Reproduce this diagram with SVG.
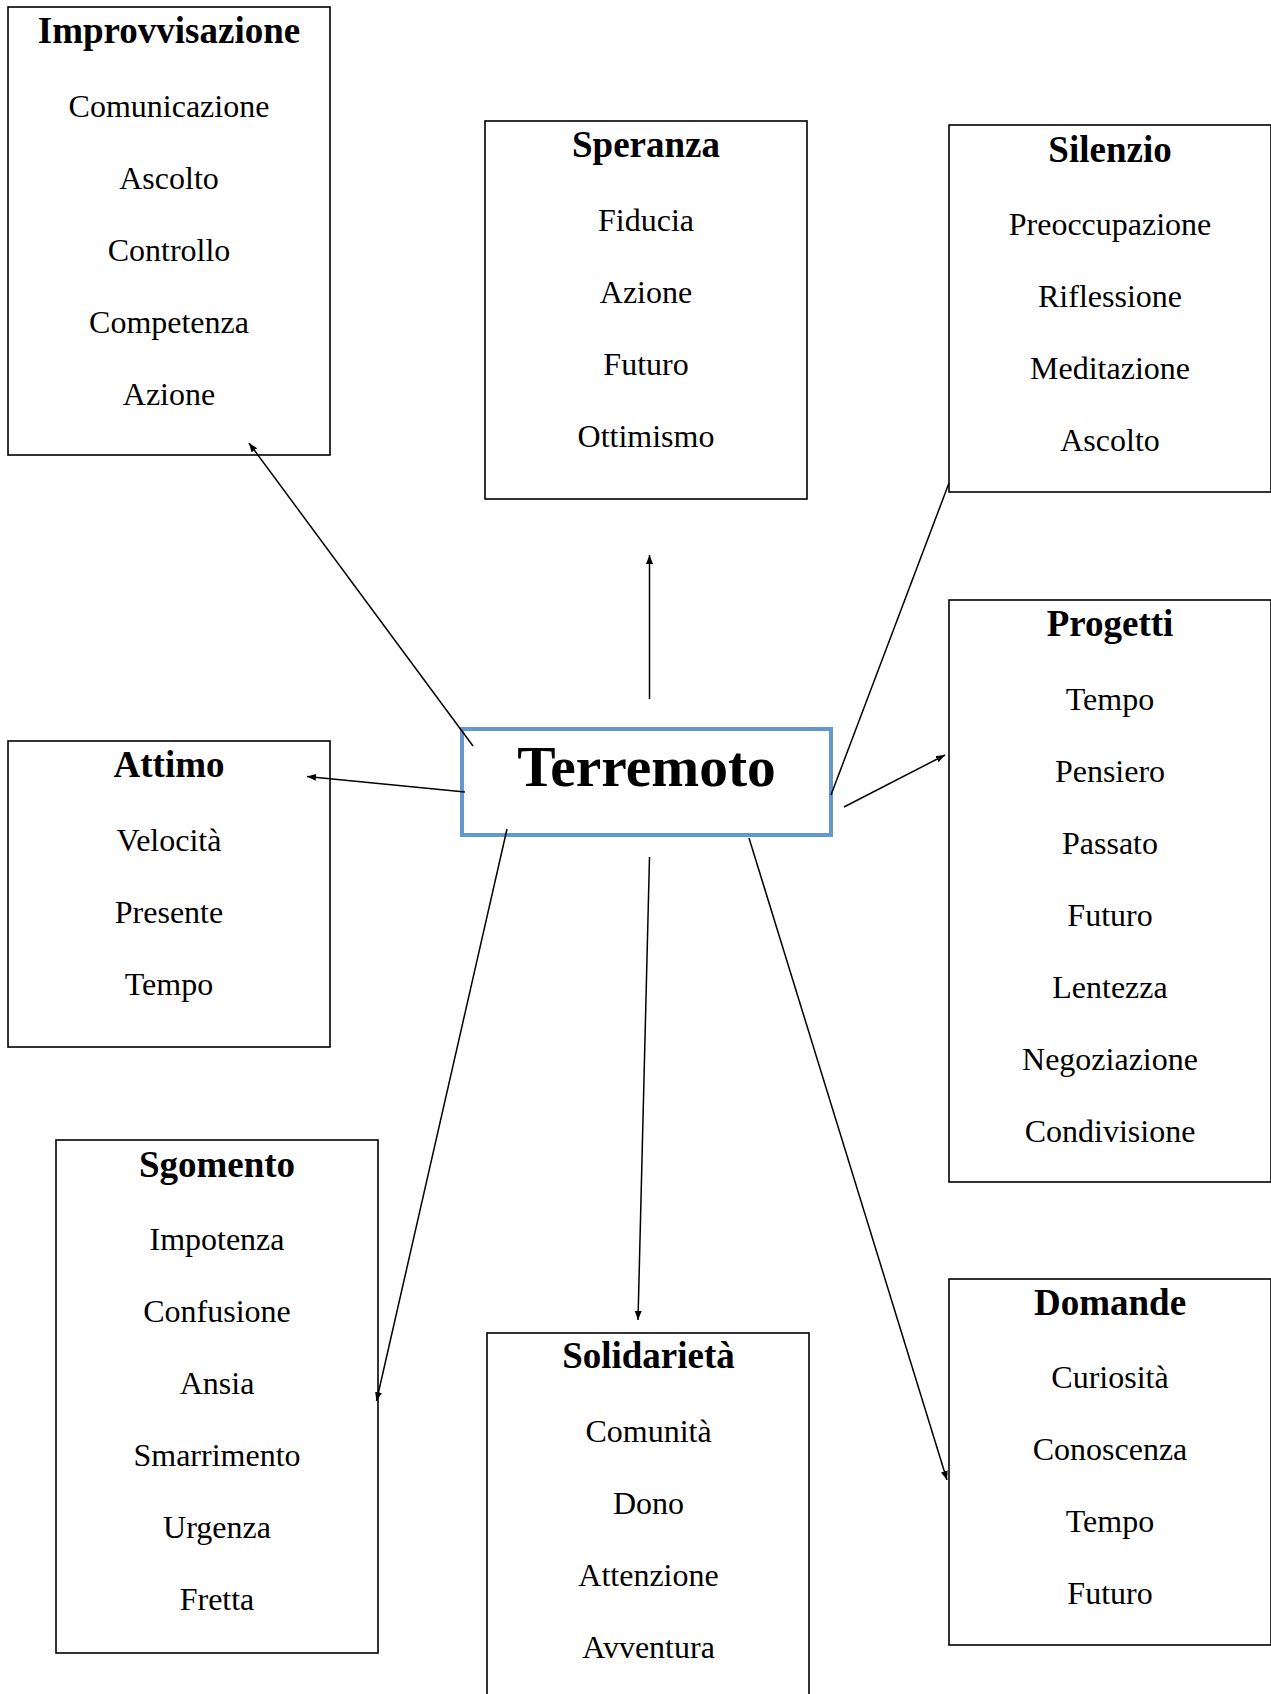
<svg xmlns="http://www.w3.org/2000/svg" width="1271" height="1694" viewBox="0 0 1271 1694">
<style>
.box{fill:#fff;stroke:#000;stroke-width:1.6}
.t{font-family:"Liberation Serif","Times New Roman",serif;font-weight:bold;font-size:37px;text-anchor:middle;fill:#000}
.i{font-family:"Liberation Serif","Times New Roman",serif;font-size:32px;text-anchor:middle;fill:#000}
.c{stroke:#000;stroke-width:1.5;fill:none;marker-end:url(#ah)}
</style>
<defs>
<marker id="ah" markerUnits="userSpaceOnUse" markerWidth="10" markerHeight="8" refX="9" refY="3.5" orient="auto">
<path d="M0,0 L9,3.5 L0,7 z" fill="#000"/>
</marker>
</defs>
<rect width="1271" height="1694" fill="#fff"/>

<g id="improvvisazione">
<rect class="box" x="8" y="7" width="322" height="448"/>
<text class="t" x="169" y="43">Improvvisazione</text>
<text class="i" x="169" y="117">Comunicazione</text>
<text class="i" x="169" y="189">Ascolto</text>
<text class="i" x="169" y="261">Controllo</text>
<text class="i" x="169" y="333">Competenza</text>
<text class="i" x="169" y="405">Azione</text>
</g>

<g id="speranza">
<rect class="box" x="485" y="121" width="322" height="378"/>
<text class="t" x="646" y="157">Speranza</text>
<text class="i" x="646" y="231">Fiducia</text>
<text class="i" x="646" y="303">Azione</text>
<text class="i" x="646" y="375">Futuro</text>
<text class="i" x="646" y="447">Ottimismo</text>
</g>

<g id="silenzio">
<rect class="box" x="949" y="125" width="322" height="367"/>
<text class="t" x="1110" y="162">Silenzio</text>
<text class="i" x="1110" y="235">Preoccupazione</text>
<text class="i" x="1110" y="307">Riflessione</text>
<text class="i" x="1110" y="379">Meditazione</text>
<text class="i" x="1110" y="451">Ascolto</text>
</g>

<g id="progetti">
<rect class="box" x="949" y="600" width="322" height="582"/>
<text class="t" x="1110" y="636">Progetti</text>
<text class="i" x="1110" y="710">Tempo</text>
<text class="i" x="1110" y="782">Pensiero</text>
<text class="i" x="1110" y="854">Passato</text>
<text class="i" x="1110" y="926">Futuro</text>
<text class="i" x="1110" y="998">Lentezza</text>
<text class="i" x="1110" y="1070">Negoziazione</text>
<text class="i" x="1110" y="1142">Condivisione</text>
</g>

<g id="attimo">
<rect class="box" x="8" y="741" width="322" height="306"/>
<text class="t" x="169" y="777">Attimo</text>
<text class="i" x="169" y="851">Velocità</text>
<text class="i" x="169" y="923">Presente</text>
<text class="i" x="169" y="995">Tempo</text>
</g>

<g id="terremoto">
<rect x="462" y="729" width="369" height="106" fill="#fff" stroke="#6497CB" stroke-width="4"/>
<text x="646.5" y="786" font-family="Liberation Serif, Times New Roman, serif" font-weight="bold" font-size="57.5" text-anchor="middle" fill="#000">Terremoto</text>
</g>

<g id="sgomento">
<rect class="box" x="56" y="1140" width="322" height="513"/>
<text class="t" x="217" y="1177">Sgomento</text>
<text class="i" x="217" y="1250">Impotenza</text>
<text class="i" x="217" y="1322">Confusione</text>
<text class="i" x="217" y="1394">Ansia</text>
<text class="i" x="217" y="1466">Smarrimento</text>
<text class="i" x="217" y="1538">Urgenza</text>
<text class="i" x="217" y="1610">Fretta</text>
</g>

<g id="solidarieta">
<rect class="box" x="487" y="1333" width="322" height="380"/>
<text class="t" x="648.5" y="1368">Solidarietà</text>
<text class="i" x="648.5" y="1442">Comunità</text>
<text class="i" x="648.5" y="1514">Dono</text>
<text class="i" x="648.5" y="1586">Attenzione</text>
<text class="i" x="648.5" y="1658">Avventura</text>
</g>

<g id="domande">
<rect class="box" x="949" y="1279" width="322" height="366"/>
<text class="t" x="1110" y="1315">Domande</text>
<text class="i" x="1110" y="1388">Curiosità</text>
<text class="i" x="1110" y="1460">Conoscenza</text>
<text class="i" x="1110" y="1532">Tempo</text>
<text class="i" x="1110" y="1604">Futuro</text>
</g>

<g id="connectors">
<line class="c" x1="473" y1="746" x2="249" y2="443"/>
<line class="c" x1="649.5" y1="699" x2="649.5" y2="555"/>
<line x1="831" y1="795" x2="949" y2="483" stroke="#000" stroke-width="1.5"/>
<line class="c" x1="844" y1="807" x2="945" y2="755"/>
<line class="c" x1="465" y1="792" x2="307" y2="776.5"/>
<line class="c" x1="507" y1="829" x2="376.5" y2="1401"/>
<line class="c" x1="649.5" y1="857" x2="638" y2="1320"/>
<line class="c" x1="749" y1="838" x2="947" y2="1480"/>
</g>
</svg>
